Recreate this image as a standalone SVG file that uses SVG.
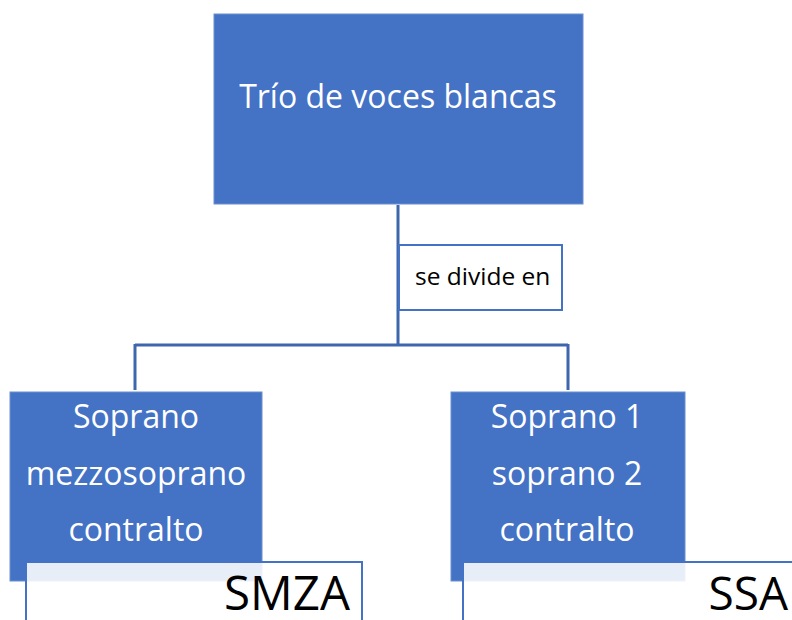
<svg xmlns="http://www.w3.org/2000/svg" width="792" height="620" viewBox="0 0 792 620">
<style>
.box{fill:#4472C4;stroke:#6A8FD0;stroke-width:1}
.wt{fill:#fff;font-family:"Open Sans","Liberation Sans",sans-serif;font-size:32px;text-anchor:middle}
.conn{fill:none;stroke:#3E66AE;stroke-width:3}
.lbl{fill:#fff;stroke:#4472C4;stroke-width:2}
.bt{fill:#000;font-family:"Open Sans","Liberation Sans",sans-serif}
.tag{fill:#fff;fill-opacity:0.88;stroke:#4472C4;stroke-width:2}
</style>
<rect width="792" height="620" fill="#fff"/>
<g id="connectors">
<path class="conn" d="M398,205 V345 M135,345 H568 M135,344 V390 M568,344 V390"/>
</g>
<g id="label">
<rect class="lbl" x="399" y="245" width="163" height="65"/>
<text class="bt" x="415" y="285" font-size="24.5">se divide en</text>
</g>
<g id="top">
<rect class="box" x="214" y="14" width="369" height="190"/>
<text class="wt" x="398" y="108">Trío de voces blancas</text>
</g>
<g id="left">
<rect class="box" x="10" y="392" width="252" height="189"/>
<text class="wt" x="136" y="428">Soprano</text>
<text class="wt" x="136" y="485">mezzosoprano</text>
<text class="wt" x="136" y="541">contralto</text>
</g>
<g id="right">
<rect class="box" x="451" y="392" width="234" height="189"/>
<text class="wt" x="567" y="428">Soprano 1</text>
<text class="wt" x="567" y="485">soprano 2</text>
<text class="wt" x="567" y="541">contralto</text>
</g>
<g id="smza">
<rect class="tag" x="26" y="562" width="336" height="70"/>
<text class="bt" x="350" y="610" font-size="47.5" text-anchor="end">SMZA</text>
</g>
<g id="ssa">
<rect class="tag" x="463" y="562" width="340" height="70"/>
<text class="bt" x="788" y="610" font-size="46" text-anchor="end">SSA</text>
</g>
</svg>
